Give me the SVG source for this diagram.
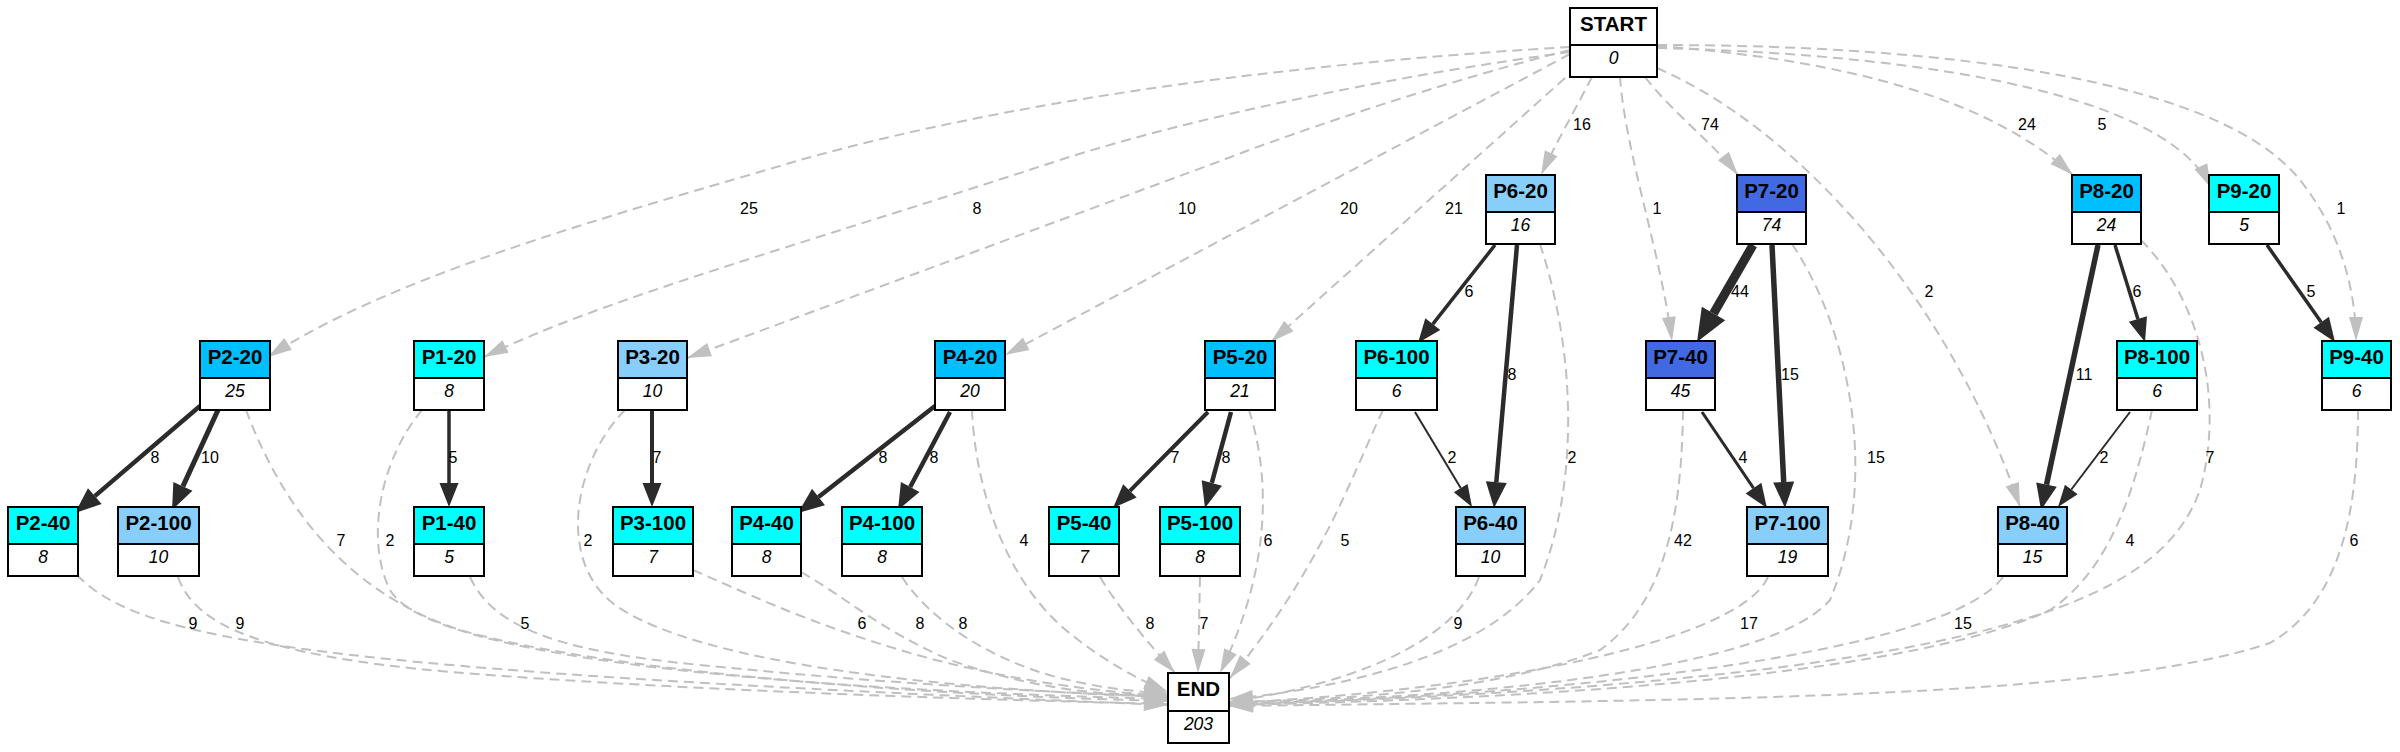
<svg xmlns="http://www.w3.org/2000/svg" width="2400" height="752" viewBox="0 0 2400 752">
<style>
.bg{fill:#ffffff}
.h{stroke:#000;stroke-width:2}
.b{fill:#fff;stroke:#000;stroke-width:2}
.t{font-family:"Liberation Sans",Arial,sans-serif;font-weight:bold;font-size:20.5px;text-anchor:middle;fill:#000}
.v{font-family:"Liberation Sans",Arial,sans-serif;font-style:italic;font-size:17.5px;text-anchor:middle;fill:#000}
.d{fill:none;stroke:#c0c0c0;stroke-width:2;stroke-dasharray:10,6;marker-end:url(#ag)}
.s{fill:none;stroke:#2b2b2b}
.l{font-family:"Liberation Sans",Arial,sans-serif;font-size:16px;text-anchor:middle;fill:#000}
</style>
<defs>
<marker id="ag" markerUnits="userSpaceOnUse" markerWidth="24" markerHeight="14" refX="24" refY="7" orient="auto" overflow="visible"><path d="M0,0 L24,7 L0,14 z" fill="#c0c0c0"/></marker>
<marker id="b2" markerUnits="userSpaceOnUse" markerWidth="22" markerHeight="16" refX="0" refY="8" orient="auto" overflow="visible"><path d="M0,0 L22,8 L0,16 z" fill="#2b2b2b"/></marker>
<marker id="b3" markerUnits="userSpaceOnUse" markerWidth="24" markerHeight="19" refX="0" refY="9.5" orient="auto" overflow="visible"><path d="M0,0 L24,9.5 L0,19 z" fill="#2b2b2b"/></marker>
<marker id="b4" markerUnits="userSpaceOnUse" markerWidth="26" markerHeight="21" refX="0" refY="10.5" orient="auto" overflow="visible"><path d="M0,0 L26,10.5 L0,21 z" fill="#2b2b2b"/></marker>
<marker id="b5" markerUnits="userSpaceOnUse" markerWidth="33" markerHeight="27" refX="0" refY="13.5" orient="auto" overflow="visible"><path d="M0,0 L33,13.5 L0,27 z" fill="#2b2b2b"/></marker>
</defs>
<rect class="bg" x="0" y="0" width="2400" height="752"/>
<g id="connectors">
<!-- from START -->
<path class="d" d="M1570,47 C1350,60 1050,90 800,160 C650,205 400,270 268,357"/>
<path class="d" d="M1570,52 C1400,75 1200,115 1060,160 C800,245 600,300 484,357"/>
<path class="d" d="M1570,50 C1450,80 1300,130 1223,160 L687,358"/>
<path class="d" d="M1570,54 L1005,355"/>
<path class="d" d="M1565,78 L1271,342"/>
<path class="d" d="M1592,77 C1575,110 1555,145 1541,175"/>
<path class="d" d="M1620,77 C1625,150 1660,250 1672,341"/>
<path class="d" d="M1645,77 C1670,110 1715,145 1738,175"/>
<path class="d" d="M1657,68 C1800,130 1950,300 2020,507"/>
<path class="d" d="M1657,46 C1850,60 1990,100 2073,175"/>
<path class="d" d="M1657,48 C1950,55 2170,100 2211,188"/>
<path class="d" d="M1657,45 C1950,45 2220,80 2300,180 C2340,230 2356,290 2356,341"/>
<!-- solid -->
<path class="s" stroke-width="4.5" marker-end="url(#b4)" d="M200,406 L94.8,496.1"/>
<path class="s" stroke-width="5" marker-end="url(#b4)" d="M218,410 L182.9,486.4"/>
<path class="s" stroke-width="3.5" marker-end="url(#b3)" d="M449,410 L449,483"/>
<path class="s" stroke-width="4" marker-end="url(#b3)" d="M652,410 L652,483"/>
<path class="s" stroke-width="4.5" marker-end="url(#b4)" d="M935,406 L818.5,497"/>
<path class="s" stroke-width="4.5" marker-end="url(#b4)" d="M950,412 L910.2,487"/>
<path class="s" stroke-width="4" marker-end="url(#b3)" d="M1208,412 L1129.9,490.9"/>
<path class="s" stroke-width="4.5" marker-end="url(#b4)" d="M1231,412 L1211.8,482.9"/>
<path class="s" stroke-width="3.5" marker-end="url(#b3)" d="M1495,245 L1432.8,324.1"/>
<path class="s" stroke-width="4.5" marker-end="url(#b4)" d="M1517,245 L1496.3,482.1"/>
<path class="s" stroke-width="2" marker-end="url(#b2)" d="M1415,412 L1460.7,488.1"/>
<path class="s" stroke-width="9" marker-end="url(#b5)" d="M1753,245 L1713.5,313.4"/>
<path class="s" stroke-width="5.5" marker-end="url(#b4)" d="M1772,245 L1783.7,482"/>
<path class="s" stroke-width="3" marker-end="url(#b3)" d="M1702,412 L1753.5,488.1"/>
<path class="s" stroke-width="5.5" marker-end="url(#b4)" d="M2098,245 L2046.5,484.6"/>
<path class="s" stroke-width="3.5" marker-end="url(#b3)" d="M2115,245 L2137.9,319"/>
<path class="s" stroke-width="2" marker-end="url(#b2)" d="M2130,412 L2071.3,489.5"/>
<path class="s" stroke-width="3.5" marker-end="url(#b3)" d="M2267,245 L2321.2,322.3"/>
<!-- to END -->
<path class="d" d="M77,575 C140,640 300,670 1168,705"/>
<path class="d" d="M178,577 C195,625 260,655 450,672 C700,692 1000,700 1168,704"/>
<path class="d" d="M246,410 C280,500 340,590 460,630 C600,670 900,695 1168,701"/>
<path class="d" d="M422,410 C380,460 365,540 390,590 C430,660 800,690 1168,699"/>
<path class="d" d="M470,577 C490,620 540,650 700,665 C900,685 1050,692 1168,697"/>
<path class="d" d="M625,410 C575,460 555,560 615,605 C700,665 950,690 1168,697"/>
<path class="d" d="M693,570 C740,590 800,620 900,650 C1000,680 1100,692 1168,696"/>
<path class="d" d="M801,572 C850,600 880,630 950,660 C1050,695 1120,695 1168,695"/>
<path class="d" d="M902,577 C930,620 990,660 1060,678 C1110,690 1140,692 1168,693"/>
<path class="d" d="M972,410 C975,480 1000,570 1060,625 C1100,660 1140,680 1168,692"/>
<path class="d" d="M1100,577 C1120,610 1150,645 1175,673"/>
<path class="d" d="M1200,577 L1198,673"/>
<path class="d" d="M1249,410 C1268,470 1275,560 1220,673"/>
<path class="d" d="M1383,410 C1350,480 1320,570 1230,678"/>
<path class="d" d="M1540,244 C1575,350 1580,480 1540,580 C1480,660 1330,690 1229,699"/>
<path class="d" d="M1479,577 C1460,630 1380,680 1229,702"/>
<path class="d" d="M1683,410 C1682,500 1670,600 1600,650 C1500,690 1350,700 1229,702"/>
<path class="d" d="M1768,577 C1740,640 1500,690 1229,703"/>
<path class="d" d="M1792,244 C1850,330 1880,480 1830,600 C1760,680 1400,700 1229,703"/>
<path class="d" d="M2003,577 C1950,650 1600,695 1229,704"/>
<path class="d" d="M2152,410 C2135,490 2110,570 2050,610 C1900,680 1500,700 1229,705"/>
<path class="d" d="M2141,240 C2200,300 2225,400 2200,490 C2160,600 2000,680 1229,705"/>
<path class="d" d="M2358,410 C2358,500 2345,600 2270,643 C2100,700 1700,700 1229,706"/>
<!-- labels -->
<text class="l" x="749" y="214">25</text>
<text class="l" x="977" y="214">8</text>
<text class="l" x="1187" y="214">10</text>
<text class="l" x="1349" y="214">20</text>
<text class="l" x="1454" y="214">21</text>
<text class="l" x="1582" y="130">16</text>
<text class="l" x="1657" y="214">1</text>
<text class="l" x="1710" y="130">74</text>
<text class="l" x="1929" y="297">2</text>
<text class="l" x="2027" y="130">24</text>
<text class="l" x="2102" y="130">5</text>
<text class="l" x="2341" y="214">1</text>
<text class="l" x="1469" y="297">6</text>
<text class="l" x="1740" y="297">44</text>
<text class="l" x="2137" y="297">6</text>
<text class="l" x="2311" y="297">5</text>
<text class="l" x="1512" y="380">8</text>
<text class="l" x="1790" y="380">15</text>
<text class="l" x="2084" y="380">11</text>
<text class="l" x="155" y="463">8</text>
<text class="l" x="210" y="463">10</text>
<text class="l" x="453" y="463">5</text>
<text class="l" x="657" y="463">7</text>
<text class="l" x="883" y="463">8</text>
<text class="l" x="934" y="463">8</text>
<text class="l" x="1175" y="463">7</text>
<text class="l" x="1226" y="463">8</text>
<text class="l" x="1452" y="463">2</text>
<text class="l" x="1572" y="463">2</text>
<text class="l" x="1743" y="463">4</text>
<text class="l" x="1876" y="463">15</text>
<text class="l" x="2104" y="463">2</text>
<text class="l" x="2210" y="463">7</text>
<text class="l" x="341" y="546">7</text>
<text class="l" x="390" y="546">2</text>
<text class="l" x="588" y="546">2</text>
<text class="l" x="1024" y="546">4</text>
<text class="l" x="1268" y="546">6</text>
<text class="l" x="1345" y="546">5</text>
<text class="l" x="1683" y="546">42</text>
<text class="l" x="2130" y="546">4</text>
<text class="l" x="2354" y="546">6</text>
<text class="l" x="193" y="629">9</text>
<text class="l" x="240" y="629">9</text>
<text class="l" x="525" y="629">5</text>
<text class="l" x="862" y="629">6</text>
<text class="l" x="920" y="629">8</text>
<text class="l" x="963" y="629">8</text>
<text class="l" x="1150" y="629">8</text>
<text class="l" x="1204" y="629">7</text>
<text class="l" x="1458" y="629">9</text>
<text class="l" x="1749" y="629">17</text>
<text class="l" x="1963" y="629">15</text>
</g>
<g id="START" transform="translate(1570,8)"><rect class="h" width="87" height="37" fill="#ffffff"/><rect class="b" y="37" width="87" height="32"/><text class="t" x="43.5" y="22.5">START</text><text class="v" x="43.5" y="56">0</text></g>
<g id="P6-20" transform="translate(1486,175)"><rect class="h" width="69" height="37" fill="#87cefa"/><rect class="b" y="37" width="69" height="32"/><text class="t" x="34.5" y="22.5">P6-20</text><text class="v" x="34.5" y="56">16</text></g>
<g id="P7-20" transform="translate(1737,175)"><rect class="h" width="69" height="37" fill="#4169e1"/><rect class="b" y="37" width="69" height="32"/><text class="t" x="34.5" y="22.5">P7-20</text><text class="v" x="34.5" y="56">74</text></g>
<g id="P8-20" transform="translate(2072,175)"><rect class="h" width="69" height="37" fill="#00bfff"/><rect class="b" y="37" width="69" height="32"/><text class="t" x="34.5" y="22.5">P8-20</text><text class="v" x="34.5" y="56">24</text></g>
<g id="P9-20" transform="translate(2209,175)"><rect class="h" width="70" height="37" fill="#00ffff"/><rect class="b" y="37" width="70" height="32"/><text class="t" x="35" y="22.5">P9-20</text><text class="v" x="35" y="56">5</text></g>
<g id="P2-20" transform="translate(200,341)"><rect class="h" width="70" height="37" fill="#00bfff"/><rect class="b" y="37" width="70" height="32"/><text class="t" x="35" y="22.5">P2-20</text><text class="v" x="35" y="56">25</text></g>
<g id="P1-20" transform="translate(414,341)"><rect class="h" width="70" height="37" fill="#00ffff"/><rect class="b" y="37" width="70" height="32"/><text class="t" x="35" y="22.5">P1-20</text><text class="v" x="35" y="56">8</text></g>
<g id="P3-20" transform="translate(618,341)"><rect class="h" width="69" height="37" fill="#87cefa"/><rect class="b" y="37" width="69" height="32"/><text class="t" x="34.5" y="22.5">P3-20</text><text class="v" x="34.5" y="56">10</text></g>
<g id="P4-20" transform="translate(935,341)"><rect class="h" width="70" height="37" fill="#00bfff"/><rect class="b" y="37" width="70" height="32"/><text class="t" x="35" y="22.5">P4-20</text><text class="v" x="35" y="56">20</text></g>
<g id="P5-20" transform="translate(1205,341)"><rect class="h" width="70" height="37" fill="#00bfff"/><rect class="b" y="37" width="70" height="32"/><text class="t" x="35" y="22.5">P5-20</text><text class="v" x="35" y="56">21</text></g>
<g id="P6-100" transform="translate(1356,341)"><rect class="h" width="81" height="37" fill="#00ffff"/><rect class="b" y="37" width="81" height="32"/><text class="t" x="40.5" y="22.5">P6-100</text><text class="v" x="40.5" y="56">6</text></g>
<g id="P7-40" transform="translate(1646,341)"><rect class="h" width="69" height="37" fill="#4169e1"/><rect class="b" y="37" width="69" height="32"/><text class="t" x="34.5" y="22.5">P7-40</text><text class="v" x="34.5" y="56">45</text></g>
<g id="P8-100" transform="translate(2117,341)"><rect class="h" width="80" height="37" fill="#00ffff"/><rect class="b" y="37" width="80" height="32"/><text class="t" x="40" y="22.5">P8-100</text><text class="v" x="40" y="56">6</text></g>
<g id="P9-40" transform="translate(2322,341)"><rect class="h" width="69" height="37" fill="#00ffff"/><rect class="b" y="37" width="69" height="32"/><text class="t" x="34.5" y="22.5">P9-40</text><text class="v" x="34.5" y="56">6</text></g>
<g id="P2-40" transform="translate(8,507)"><rect class="h" width="70" height="37" fill="#00ffff"/><rect class="b" y="37" width="70" height="32"/><text class="t" x="35" y="22.5">P2-40</text><text class="v" x="35" y="56">8</text></g>
<g id="P2-100" transform="translate(118,507)"><rect class="h" width="81" height="37" fill="#87cefa"/><rect class="b" y="37" width="81" height="32"/><text class="t" x="40.5" y="22.5">P2-100</text><text class="v" x="40.5" y="56">10</text></g>
<g id="P1-40" transform="translate(414,507)"><rect class="h" width="70" height="37" fill="#00ffff"/><rect class="b" y="37" width="70" height="32"/><text class="t" x="35" y="22.5">P1-40</text><text class="v" x="35" y="56">5</text></g>
<g id="P3-100" transform="translate(613,507)"><rect class="h" width="80" height="37" fill="#00ffff"/><rect class="b" y="37" width="80" height="32"/><text class="t" x="40" y="22.5">P3-100</text><text class="v" x="40" y="56">7</text></g>
<g id="P4-40" transform="translate(732,507)"><rect class="h" width="69" height="37" fill="#00ffff"/><rect class="b" y="37" width="69" height="32"/><text class="t" x="34.5" y="22.5">P4-40</text><text class="v" x="34.5" y="56">8</text></g>
<g id="P4-100" transform="translate(842,507)"><rect class="h" width="80" height="37" fill="#00ffff"/><rect class="b" y="37" width="80" height="32"/><text class="t" x="40" y="22.5">P4-100</text><text class="v" x="40" y="56">8</text></g>
<g id="P5-40" transform="translate(1049,507)"><rect class="h" width="70" height="37" fill="#00ffff"/><rect class="b" y="37" width="70" height="32"/><text class="t" x="35" y="22.5">P5-40</text><text class="v" x="35" y="56">7</text></g>
<g id="P5-100" transform="translate(1160,507)"><rect class="h" width="80" height="37" fill="#00ffff"/><rect class="b" y="37" width="80" height="32"/><text class="t" x="40" y="22.5">P5-100</text><text class="v" x="40" y="56">8</text></g>
<g id="P6-40" transform="translate(1456,507)"><rect class="h" width="69" height="37" fill="#87cefa"/><rect class="b" y="37" width="69" height="32"/><text class="t" x="34.5" y="22.5">P6-40</text><text class="v" x="34.5" y="56">10</text></g>
<g id="P7-100" transform="translate(1747,507)"><rect class="h" width="81" height="37" fill="#87cefa"/><rect class="b" y="37" width="81" height="32"/><text class="t" x="40.5" y="22.5">P7-100</text><text class="v" x="40.5" y="56">19</text></g>
<g id="P8-40" transform="translate(1998,507)"><rect class="h" width="69" height="37" fill="#87cefa"/><rect class="b" y="37" width="69" height="32"/><text class="t" x="34.5" y="22.5">P8-40</text><text class="v" x="34.5" y="56">15</text></g>
<g id="END" transform="translate(1168,673)"><rect class="h" width="61" height="38" fill="#ffffff"/><rect class="b" y="38" width="61" height="32"/><text class="t" x="30.5" y="23">END</text><text class="v" x="30.5" y="57">203</text></g>
</svg>
